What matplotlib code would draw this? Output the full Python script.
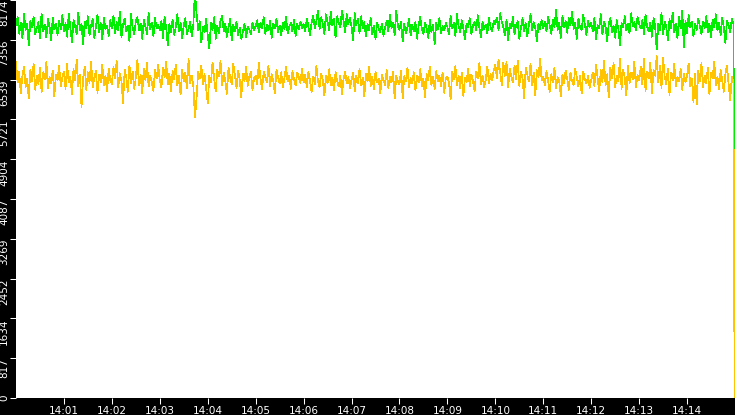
import matplotlib
matplotlib.use("Agg")
import matplotlib.pyplot as plt
import matplotlib.dates as mdates
import pandas as pd

# samples every 2 s from 14:00:00, last sample is the drop at the end
green = [
    7650, 7820, 7480, 7710, 7390, 7880, 7560, 7690, 7250, 7740, 7610, 7830, 7470, 7590, 7720, 7380, 7900, 7530, 7660, 7410, 7780, 7620, 7350, 7810, 7570, 7690, 7460, 7750, 7580, 7860,
    7530, 7700, 7420, 7890, 7610, 7310, 7760, 7640, 7480, 7920, 7550, 7680, 7270, 7730, 7590, 7840, 7450, 7660, 7780, 7400, 7620, 7870, 7520, 7700, 7360, 7810, 7580, 7650, 7440, 7760,
    7600, 7850, 7490, 7720, 7560, 7930, 7410, 7680, 7790, 7530, 7650, 7330, 7880, 7600, 7470, 7740, 7820, 7550, 7690, 7380, 7760, 7620, 7480, 7900, 7570, 7710, 7440, 7800, 7590, 7670,
    7560, 7740, 7400, 7830, 7600, 7250, 7690, 7510, 7770, 7460, 7620, 7880, 7540, 7700, 7390, 7650, 7800, 7480, 7590, 7720, 7430, 7680, 8350, 7900, 7560, 7740, 7300, 7620, 7510, 7780,
    7450, 7180, 7700, 7560, 7820, 7380, 7640, 7490, 7750, 7850, 7530, 7690, 7420, 7610, 7780, 7350, 7660, 7540, 7720, 7460, 7600, 7380, 7520, 7690, 7410, 7630, 7570, 7480, 7700, 7550,
    7640, 7760, 7510, 7700, 7590, 7820, 7480, 7660, 7550, 7740, 7400, 7690, 7600, 7780, 7520, 7650, 7450, 7710, 7580, 7830, 7490, 7620, 7700, 7530, 7760, 7440, 7680, 7570, 7720, 7600,
    7680, 7540, 7790, 7620, 7460, 7700, 7850, 7600, 7740, 7950, 7580, 7820, 7690, 7480, 7880, 7720, 7560, 7930, 7650, 7790, 7400, 7840, 7700, 7610, 7960, 7750, 7520, 7880, 7680, 7800,
    7620, 7350, 7900, 7660, 7780, 7500, 7840, 7590, 7720, 7430, 7680, 7560, 7800, 7470, 7640, 7380, 7710, 7580, 7520, 7690, 7440, 7610, 7750, 7530, 7870, 7600, 7700, 7460, 7950, 7640,
    7560, 7730, 7320, 7680, 7500, 7610, 7790, 7450, 7660, 7540, 7720, 7380, 7640, 7830, 7570, 7480, 7700, 7600, 7400, 7760, 7520, 7660, 7270, 7710, 7580, 7810, 7490, 7640, 7550, 7700,
    7620, 7470, 7850, 7590, 7700, 7430, 7880, 7640, 7520, 7760, 7580, 7360, 7690, 7610, 7800, 7480, 7650, 7730, 7550, 7860, 7600, 7420, 7720, 7580, 7670, 7490, 7800, 7620, 7540, 7750,
    7680, 7810, 7560, 7900, 7730, 7620, 7460, 7770, 7350, 7690, 7590, 7820, 7480, 7650, 7740, 7380, 7600, 7800, 7530, 7700, 7430, 7670, 7880, 7560, 7720, 7610, 7330, 7690, 7580, 7760,
    7600, 7720, 7540, 7830, 7660, 7480, 7760, 7620, 7980, 7560, 7700, 7400, 7850, 7610, 7740, 7500, 7800, 7650, 7930, 7580, 7700, 7380, 7790, 7620, 7550, 7870, 7680, 7460, 7750, 7620,
    7700, 7540, 7810, 7360, 7660, 7590, 7880, 7470, 7730, 7620, 7330, 7690, 7800, 7520, 7650, 7400, 7760, 7580, 7250, 7700, 7610, 7840, 7550, 7680, 7490, 7900, 7640, 7720, 7560, 7830,
    7680, 7590, 7760, 7480, 7870, 7630, 7530, 7710, 7420, 7800, 7640, 7160, 7690, 7560, 7900, 7470, 7730, 7620, 7340, 7780, 7600, 7920, 7510, 7680, 7390, 7830, 7590, 7960, 7200, 7740,
    7500, 7860, 7610, 7720, 7430, 7680, 7560, 7790, 7640, 7480, 7730, 7600, 7840, 7520, 7690, 7410, 7770, 7620, 7880, 7550, 7700, 7460, 7810, 7600, 7290, 7740, 7650, 7520, 7790, 7680,
    3400,
]

yellow = [
    6900, 6480, 6700, 6250, 6620, 6810, 6390, 6560, 6150, 6740, 6500, 6870, 6330, 6610, 6450, 6780, 6280, 6690, 6540, 6900, 6360, 6590, 6470, 6720, 6200, 6640, 6520, 6830, 6410, 6580,
    6700, 6350, 6860, 6480, 6600, 6240, 6750, 6520, 6950, 6400, 6630, 5980, 6560, 6810, 6330, 6690, 6470, 6900, 6380, 6580, 6720, 6270, 6640, 6490, 6850, 6420, 6610, 6300, 6760, 6530,
    6450, 6800, 6560, 6920, 6380, 6670, 6510, 6050, 6740, 6600, 6290, 6830, 6460, 6700, 6350, 6580, 6950, 6420, 6640, 6260, 6770, 6530, 6880, 6400, 6620, 6480, 6310, 6730, 6560, 6840,
    6520, 6380, 6780, 6590, 6900, 6440, 6660, 6300, 6710, 6550, 6850, 6420, 6610, 6230, 6740, 6500, 6680, 6360, 6960, 6470, 6620, 6390, 5760, 6150, 6700, 6560, 6820, 6440, 6650, 6350,
    6050, 6620, 6480, 6890, 6560, 6300, 6740, 6600, 6920, 6420, 6680, 6510, 6250, 6780, 6590, 6440, 6860, 6630, 6370, 6720, 6540, 6180, 6650, 6500, 6810, 6410, 6600, 6700, 6330, 6560,
    6620, 6450, 6880, 6560, 6340, 6700, 6600, 6480, 6830, 6410, 6650, 6520, 6260, 6740, 6580, 6460, 6690, 6380, 6560, 6800, 6500, 6620, 6350, 6710, 6540, 6420, 6680, 6590, 6470, 6760,
    6480, 6630, 6390, 6700, 6520, 6290, 6600, 6450, 6820, 6500, 6380, 6660, 6540, 6210, 6610, 6470, 6750, 6430, 6580, 6330, 6690, 6510, 6400, 6620, 6240, 6560, 6700, 6460, 6590, 6370,
    6540, 6680, 6300, 6620, 6470, 6750, 6420, 6580, 6200, 6650, 6500, 6800, 6410, 6600, 6350, 6700, 6480, 6560, 6260, 6640, 6520, 6430, 6730, 6370, 6590, 6480, 6690, 6150, 6620, 6500,
    6440, 6720, 6160, 6610, 6500, 6790, 6380, 6570, 6460, 6690, 6320, 6620, 6480, 6750, 6410, 6560, 6180, 6650, 6530, 6800, 6430, 6590, 6350, 6710, 6500, 6620, 6400, 6680, 6270, 6570,
    6600, 6480, 6130, 6700, 6550, 6820, 6420, 6610, 6360, 6680, 6200, 6580, 6490, 6760, 6400, 6640, 6520, 6300, 6700, 6570, 6880, 6450, 6620, 6380, 6540, 6810, 6470, 6650, 6520, 6730,
    6850, 6560, 6950, 6700, 6430, 6880, 6620, 6900, 6380, 6760, 6600, 6480, 6830, 6550, 6920, 6410, 6700, 6580, 6150, 6790, 6640, 6500, 6870, 6420, 6680, 6210, 6730, 6590, 6960, 6520,
    6600, 6420, 6710, 6530, 6290, 6650, 6480, 6780, 6370, 6590, 6500, 6200, 6640, 6470, 6720, 6550, 6330, 6680, 6510, 6430, 6760, 6590, 6400, 6620, 6250, 6700, 6540, 6460, 6610, 6370,
    6520, 6680, 6400, 6850, 6580, 6300, 6730, 6490, 6920, 6430, 6650, 6170, 6790, 6560, 6880, 6390, 6620, 6500, 6960, 6350, 6740, 6580, 6220, 6820, 6470, 6680, 6550, 6900, 6380, 6640,
    6520, 6800, 6440, 6960, 6300, 6700, 6560, 6880, 6250, 6740, 6620, 7020, 6480, 6830, 6370, 6990, 6600, 6450, 6770, 6220, 6680, 6520, 6860, 6410, 6600, 6500, 6750, 6330, 6660, 6480,
    6620, 6870, 6400, 6560, 6080, 6650, 6030, 6720, 6500, 6880, 6380, 6620, 6470, 6790, 6230, 6680, 6560, 6910, 6420, 6600, 6350, 6740, 6510, 6290, 6660, 6830, 6440, 6120, 6590, 6480,
    0,
]

y_ticks = [0, 817, 1634, 2452, 3269, 4087, 4904, 5721, 6539, 7356, 8174]

start = pd.Timestamp("2024-01-01 14:00:00")
end = pd.Timestamp("2024-01-01 14:15:00")
times = list(pd.date_range(start, periods=len(green) - 1, freq="2s"))
times.append(pd.Timestamp("2024-01-01 14:14:59.5"))

fig = plt.figure(figsize=(7.35, 4.15), dpi=100, facecolor="black")
ax = fig.add_axes([16 / 735, 17 / 415, 719 / 735, 398 / 415])
ax.set_facecolor("white")

ax.plot(times, green, color="#00ee00", lw=0.5, antialiased=False)
ax.plot(times, yellow, color="#ffc300", lw=0.5, antialiased=False)

ax.set_xlim(start, end)
ax.set_ylim(0, 8174)

ax.xaxis.set_major_locator(mdates.MinuteLocator(byminute=range(1, 15)))
ax.xaxis.set_major_formatter(mdates.DateFormatter("%H:%M"))
ax.set_yticks(y_ticks)
ax.set_yticklabels([str(v) for v in y_ticks])

for spine in ax.spines.values():
    spine.set_visible(False)

ax.tick_params(axis="both", colors="white", length=4, width=0.75, labelsize=7.5)
ax.tick_params(axis="x", pad=1.5)
ax.tick_params(axis="y", pad=1)
for lbl in ax.get_yticklabels():
    lbl.set_rotation(90)
    lbl.set_va("top")
    lbl.set_ha("right")
ax.get_yticklabels()[0].set_va("center")

fig.savefig("out.png", dpi=100, facecolor="black")
